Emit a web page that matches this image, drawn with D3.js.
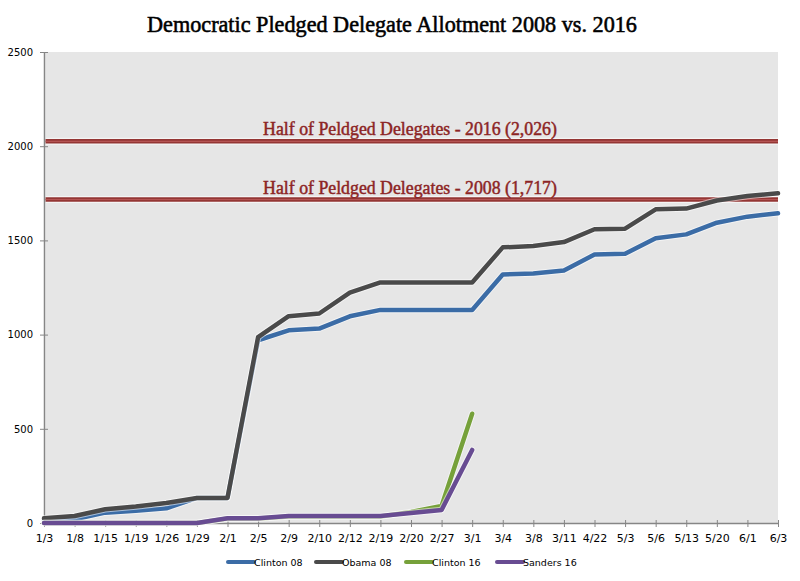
<!DOCTYPE html>
<html>
<head>
<meta charset="utf-8">
<script src="https://cdn.jsdelivr.net/npm/d3@7"></script>
<style>
  html, body { margin: 0; padding: 0; background: #fff; }
  svg { display: block; }
</style>
</head>
<body>
<svg id="chart" width="800" height="581"></svg>
<script>
const categories = ["1/3","1/8","1/15","1/19","1/26","1/29","2/1","2/5","2/9","2/10","2/12","2/19","2/20","2/27","3/1","3/4","3/8","3/11","4/22","5/3","5/6","5/13","5/20","6/1","6/3"];
const clinton08 = [15,20,55,65,78,133,133,970,1023,1032,1097,1131,1131,1131,1131,1319,1324,1340,1425,1429,1511,1532,1594,1626,1644];
const obama08   = [25,37,73,87,106,133,133,987,1098,1112,1223,1277,1277,1277,1277,1463,1470,1491,1559,1562,1665,1669,1712,1736,1750];
const clinton16 = [0,0,0,0,0,0,24,24,34,34,34,34,58,90,580];
const sanders16 = [0,0,0,0,0,0,25,25,37,37,37,37,53,69,388];
const yTicks = [0,500,1000,1500,2000,2500];
const refLines = [
  {value: 2026, label: "Half of Peldged Delegates - 2016 (2,026)"},
  {value: 1717, label: "Half of Peldged Delegates - 2008 (1,717)"}
];
const seriesNames = ["Clinton 08","Obama 08","Clinton 16","Sanders 16"];
const seriesColors = ["#3b6ca6","#4a4a4a","#76a13a","#684c92"];
const seriesData = [clinton08, obama08, clinton16, sanders16];

const svg = d3.select("#chart");
const plotL = 44, plotR = 778, plotT = 52, plotB = 523;

const x = d3.scalePoint().domain(categories).range([plotL, plotR]);
const y = d3.scaleLinear().domain([0, 2500]).range([plotB, plotT]);

// plot background
svg.append("rect").attr("x", plotL + 1.5).attr("y", y(2500)).attr("width", plotR - plotL - 1.5).attr("height", plotB - y(2500)).attr("fill", "#e6e6e6");

// title
svg.append("text").attr("x", 392).attr("y", 32).attr("text-anchor", "middle")
  .attr("font-family", "Liberation Serif, serif").attr("font-size", 22.2)
  .attr("fill", "#000").attr("stroke", "#000").attr("stroke-width", 0.55)
  .text("Democratic Pledged Delegate Allotment 2008 vs. 2016");

// reference lines
refLines.forEach(r => {
  const yy = y(r.value);
  svg.append("line").attr("x1", plotL + 1.5).attr("x2", plotR).attr("y1", yy).attr("y2", yy)
    .attr("stroke", "#f4f4f4").attr("stroke-width", 7);
  svg.append("line").attr("x1", plotL + 1.5).attr("x2", plotR).attr("y1", yy).attr("y2", yy)
    .attr("stroke", "#943634").attr("stroke-width", 4.5);
  svg.append("line").attr("x1", plotL + 1.5).attr("x2", plotR).attr("y1", yy).attr("y2", yy)
    .attr("stroke", "#b55453").attr("stroke-width", 1.2);
  svg.append("text").attr("x", 410).attr("y", yy - 6).attr("text-anchor", "middle")
    .attr("font-family", "Liberation Serif, serif").attr("font-size", 17.8)
    .attr("fill", "#8c2424").attr("stroke", "#8c2424").attr("stroke-width", 0.45)
    .text(r.label);
});

// axes
const yAxis = d3.axisLeft(y).tickValues(yTicks).tickFormat(d3.format("d")).tickSize(0).tickPadding(11);
const gy = svg.append("g").attr("transform", `translate(${plotL},0)`).call(yAxis);
gy.select(".domain").attr("stroke", "#868686").attr("stroke-width", 1.5);
gy.selectAll("text").attr("font-family", "DejaVu Sans, sans-serif").attr("font-size", 10).attr("fill", "#000");
gy.selectAll(".tick").append("line").attr("x1", -4).attr("x2", 4).attr("stroke", "#868686").attr("stroke-width", 1);

const xAxis = d3.axisBottom(x).tickSize(0).tickPadding(11);
const gx = svg.append("g").attr("transform", `translate(0,${plotB})`).call(xAxis);
gx.select(".domain").attr("stroke", "#868686").attr("stroke-width", 1.5);
gx.selectAll("text").attr("font-family", "DejaVu Sans, sans-serif").attr("font-size", 11).attr("fill", "#000");
gx.selectAll(".tick").append("line").attr("y1", -3).attr("y2", 4).attr("stroke", "#868686").attr("stroke-width", 1);

// series lines
const line = d3.line().defined(d => d != null).x((d, i) => x(categories[i])).y(d => y(d));
seriesData.forEach((data, k) => {
  svg.append("path").datum(data).attr("d", line).attr("fill", "none")
    .attr("stroke", "rgba(255,255,255,0.55)").attr("stroke-width", 6.5).attr("stroke-linejoin", "round").attr("stroke-linecap", "round");
  svg.append("path").datum(data).attr("d", line).attr("fill", "none")
    .attr("stroke", seriesColors[k]).attr("stroke-width", 4.5).attr("stroke-linejoin", "round").attr("stroke-linecap", "round");
});

// legend
const legendX = [228, 316, 406, 497];
const lg = svg.append("g");
seriesNames.forEach((name, k) => {
  const lx = legendX[k];
  lg.append("line").attr("x1", lx).attr("x2", lx + 26).attr("y1", 562).attr("y2", 562)
    .attr("stroke", seriesColors[k]).attr("stroke-width", 4).attr("stroke-linecap", "round");
  lg.append("text").attr("x", lx + 26).attr("y", 566)
    .attr("font-family", "DejaVu Sans, sans-serif").attr("font-size", 9.5).attr("fill", "#000")
    .text(name);
});
</script>
</body>
</html>
